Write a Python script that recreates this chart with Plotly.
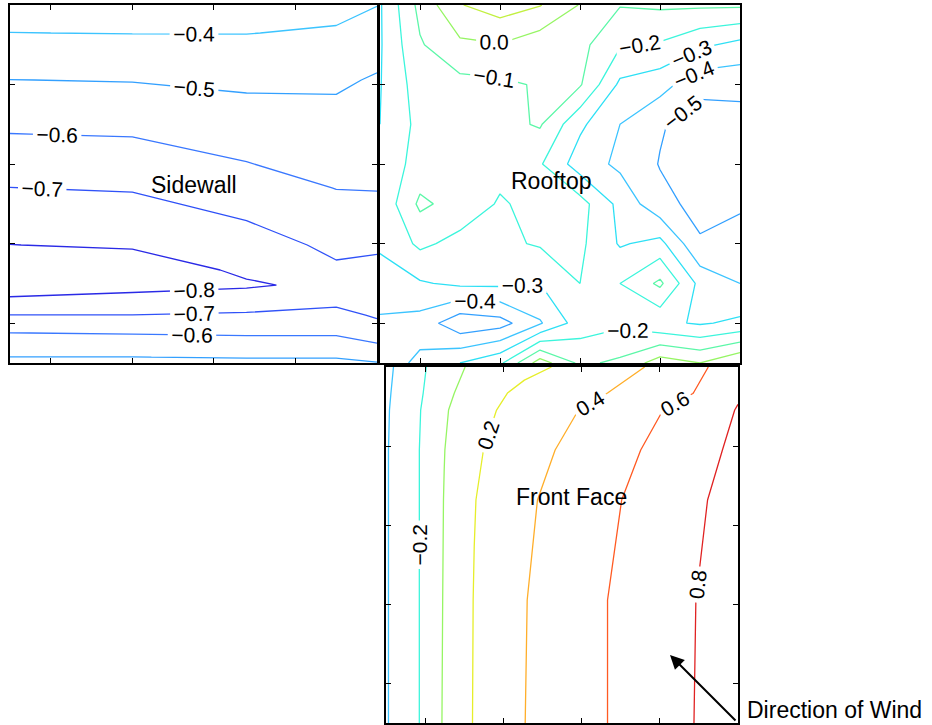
import plotly.graph_objects as go

# ---------------- pressure coefficient data (three faces of the building) ----------------
# Every face uses the same grid units: 0.5 .. 5.0 on both axes (y increases upward).

# Sidewall: columns along x, rows listed from the top edge down
side_x = [0.5, 2.0, 3.4, 4.5, 5.0]
side_y_top_down = [5.0, 4.648, 4.057, 3.378, 2.700, 1.983, 1.669, 1.480, 1.330, 1.103, 0.877, 0.575, 0.5]
side_z_top_down = [
    [-0.360, -0.360, -0.370, -0.370, -0.398],
    [-0.401, -0.398, -0.398, -0.411, -0.444],
    [-0.501, -0.496, -0.482, -0.484, -0.510],
    [-0.601, -0.595, -0.557, -0.544, -0.552],
    [-0.701, -0.693, -0.641, -0.598, -0.595],
    [-0.801, -0.790, -0.744, -0.679, -0.685],
    [-0.860, -0.850, -0.785, -0.714, -0.725],
    [-0.850, -0.830, -0.810, -0.780, -0.735],
    [-0.799, -0.782, -0.771, -0.740, -0.730],
    [-0.699, -0.699, -0.688, -0.669, -0.712],
    [-0.599, -0.605, -0.612, -0.612, -0.652],
    [-0.499, -0.499, -0.505, -0.505, -0.529],
    [-0.470, -0.470, -0.475, -0.475, -0.495],
]
side_levels = [-0.8, -0.7, -0.6, -0.5, -0.4]

# Rooftop: regular 10 x 10 grid, rows listed from the top edge down
roof_x = [0.5, 1.0, 1.5, 2.0, 2.5, 3.0, 3.5, 4.0, 4.5, 5.0]
roof_y_top_down = [5.0, 4.5, 4.0, 3.5, 3.0, 2.5, 2.0, 1.5, 1.0, 0.5]
roof_z_top_down = [
    [-0.31, -0.07, 0.095, 0.15, 0.105, -0.005, -0.095, -0.085, -0.085, -0.085],
    [-0.31, -0.11, -0.02, -0.005, -0.06, -0.07, -0.19, -0.21, -0.28, -0.33],
    [-0.305, -0.15, -0.13, -0.12, -0.09, -0.09, -0.32, -0.36, -0.47, -0.47],
    [-0.30, -0.17, -0.14, -0.13, -0.09, -0.28, -0.40, -0.49, -0.55, -0.54],
    [-0.27, -0.16, -0.14, -0.17, -0.19, -0.35, -0.42, -0.505, -0.57, -0.55],
    [-0.28, -0.08, -0.14, -0.21, -0.17, -0.16, -0.33, -0.47, -0.53, -0.51],
    [-0.29, -0.18, -0.23, -0.22, -0.19, -0.18, -0.31, -0.27, -0.49, -0.47],
    [-0.33, -0.31, -0.28, -0.28, -0.30, -0.20, -0.20, -0.08, -0.33, -0.40],
    [-0.42, -0.44, -0.57, -0.54, -0.41, -0.25, -0.22, -0.28, -0.31, -0.28],
    [-0.45, -0.38, -0.30, -0.22, 0.05, -0.12, -0.08, 0.05, 0.00, 0.10],
]
roof_levels = [-0.5, -0.4, -0.3, -0.2, -0.1, 0.0, 0.1]

# Front (windward) face, rows listed from the top edge down
front_x = [0.5, 0.923, 1.244, 1.628, 2.269, 3.321, 4.423, 5.0]
front_y_top_down = [5.0, 4.671, 4.456, 3.951, 3.319, 2.055, 0.5]
front_z_top_down = [
    [-0.445, -0.246, -0.087, 0.038, 0.149, 0.304, 0.522, 0.75],
    [-0.430, -0.229, -0.052, 0.102, 0.250, 0.398, 0.598, 0.78],
    [-0.422, -0.212, -0.023, 0.135, 0.281, 0.462, 0.673, 0.81],
    [-0.416, -0.202, -0.004, 0.171, 0.329, 0.519, 0.724, 0.84],
    [-0.416, -0.202, 0.006, 0.194, 0.369, 0.564, 0.771, 0.86],
    [-0.416, -0.202, 0.013, 0.207, 0.393, 0.598, 0.795, 0.87],
    [-0.416, -0.202, 0.020, 0.211, 0.398, 0.598, 0.798, 0.88],
]
front_levels = [-0.4, -0.2, 0.0, 0.2, 0.4, 0.6, 0.8]
front_unlabelled = [0.0]

tick_values = [1, 2, 3, 4]
face_names = ["Sidewall", "Rooftop", "Front Face"]
wind_label = "Direction of Wind"

# jet-style line colour for each contour level
level_colors = {
    -0.8: "#2a2ae6", -0.7: "#3052f8", -0.6: "#3a78ff", -0.5: "#33a0ff",
    -0.4: "#3cc4ff", -0.3: "#2ee0f5", -0.2: "#3cf5dc", -0.1: "#5cf7a8",
    0.0: "#96f564", 0.1: "#c2f040", 0.2: "#e6ee2a", 0.4: "#ffae2a",
    0.6: "#ff5a22", 0.8: "#e02222",
}

FONT = "Liberation Sans, Arial, sans-serif"
W, H = 932, 725


def bottom_up(rows):
    return rows[::-1]


def level_trace(x, y_td, z_td, level, xa, ya, labels=True):
    c = level_colors[level]
    return go.Contour(
        x=x, y=bottom_up(y_td), z=bottom_up(z_td),
        xaxis=xa, yaxis=ya,
        colorscale=[[0, c], [1, c]], showscale=False,
        autocontour=False,
        contours=dict(start=level, end=level, size=1, coloring="lines",
                      showlabels=labels, labelformat=".1f",
                      labelfont=dict(family=FONT, size=21, color="black")),
        line=dict(width=1.3, smoothing=0),
        hoverinfo="skip",
    )


fig = go.Figure()
for lv in side_levels:
    fig.add_trace(level_trace(side_x, side_y_top_down, side_z_top_down, lv, "x", "y"))
for lv in roof_levels:
    fig.add_trace(level_trace(roof_x, roof_y_top_down, roof_z_top_down, lv, "x2", "y2"))
for lv in front_levels:
    fig.add_trace(level_trace(front_x, front_y_top_down, front_z_top_down, lv, "x3", "y3",
                              labels=lv not in front_unlabelled))


def px_x(p):
    return p / W


def px_y(p):
    return 1 - p / H


axis_style = dict(range=[0.5, 5.0], tickvals=tick_values, showticklabels=False,
                  ticks="inside", ticklen=5, tickwidth=1, tickcolor="black",
                  showline=True, linecolor="black", linewidth=1.5, mirror="ticks",
                  showgrid=False, zeroline=False, fixedrange=True)

panels = {
    "": ((10, 377), (5, 363)),
    "2": ((380, 740), (5, 363)),
    "3": ((386, 738), (367, 723)),
}
layout_axes = {}
for suffix, ((x0, x1), (y0, y1)) in panels.items():
    layout_axes["xaxis" + suffix] = dict(axis_style, domain=[px_x(x0), px_x(x1)],
                                         anchor="y" + suffix)
    layout_axes["yaxis" + suffix] = dict(axis_style, domain=[px_y(y1), px_y(y0)],
                                         anchor="x" + suffix)

annotations = [
    dict(text=face_names[0], x=px_x(194), y=px_y(185)),
    dict(text=face_names[1], x=px_x(551), y=px_y(181)),
    dict(text=face_names[2], x=px_x(571), y=px_y(497)),
    dict(text=wind_label, x=px_x(745), y=px_y(710), xanchor="left"),
]
for a in annotations:
    a.update(xref="paper", yref="paper", showarrow=False,
             font=dict(family=FONT, size=23, color="black"))
    a.setdefault("xanchor", "center")
    a["yanchor"] = "middle"

# wind arrow pointing up-left into the front face
annotations.append(dict(x=px_x(670), y=px_y(655), xref="paper", yref="paper",
                        ax=67, ay=67, axref="pixel", ayref="pixel", text="",
                        showarrow=True, arrowhead=2, arrowsize=1.4, arrowwidth=2,
                        arrowcolor="black"))

fig.update_layout(width=W, height=H, margin=dict(l=0, r=0, t=0, b=0),
                  paper_bgcolor="white", plot_bgcolor="white", showlegend=False,
                  annotations=annotations, **layout_axes)

fig.write_html("out.html")
